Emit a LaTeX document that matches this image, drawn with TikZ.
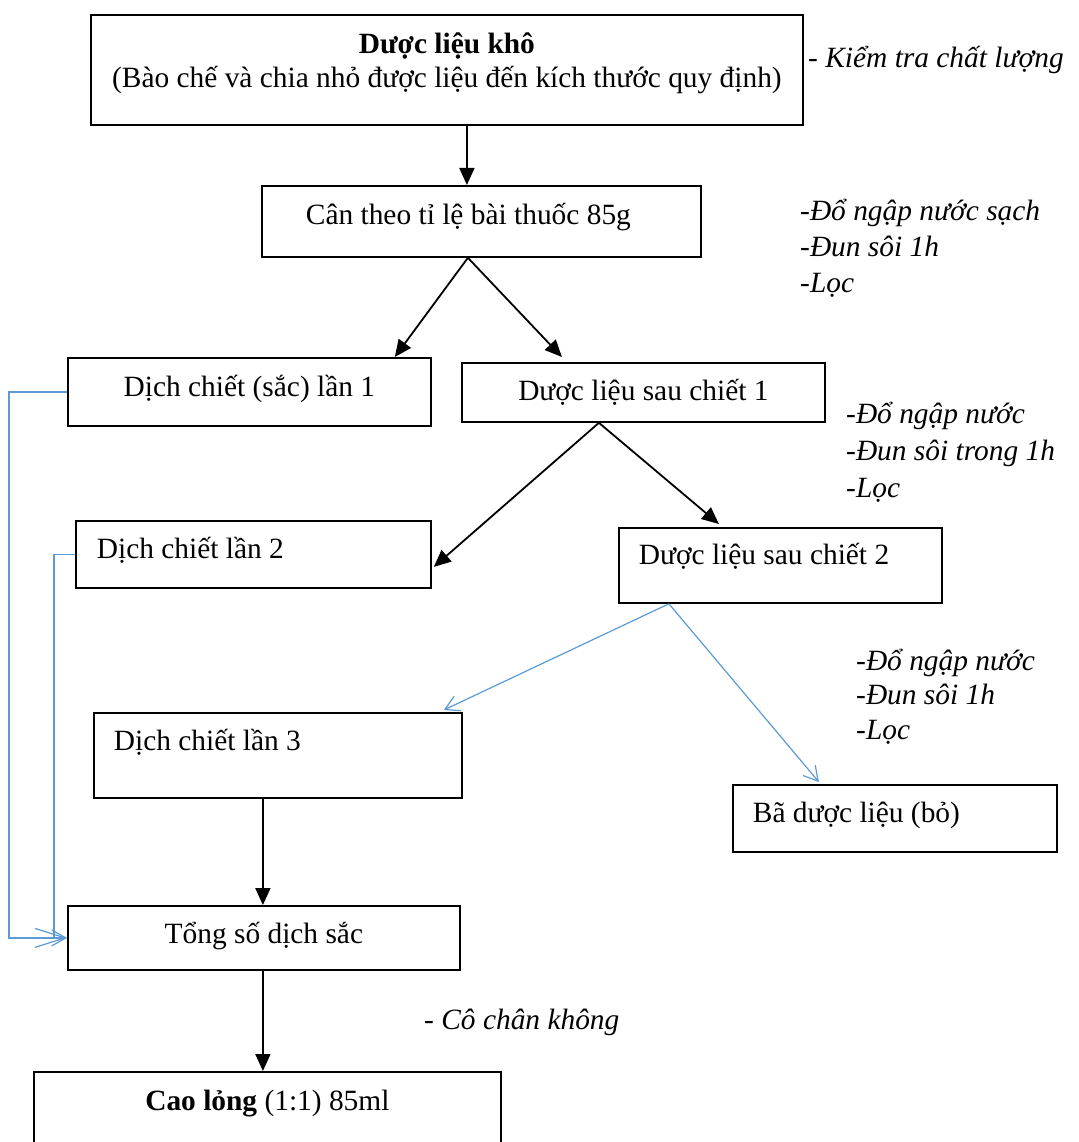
\documentclass[tikz,border=0pt]{standalone}
\usepackage{fontspec}
\setmainfont{Liberation Serif}
\usetikzlibrary{arrows.meta, calc}
\definecolor{wordblue}{RGB}{91,155,213}

\begin{document}
\begin{tikzpicture}[
    x=1pt, y=-1pt,
    font=\fontsize{29.4}{34}\selectfont,
    box/.style={draw, line width=1.8pt, rectangle, anchor=north west,
        inner ysep=0pt},
    cbox/.style={box, inner xsep=0pt, align=flush center},
    lbox/.style={box, inner xsep=20pt, align=flush left},
    note/.style={anchor=base west, inner sep=0pt, align=left,
        font=\fontsize{29.4}{36.5}\selectfont\itshape},
    flow/.style={line width=1.8pt, -{Triangle[length=17pt, width=15pt]}},
    feed/.style={draw=wordblue, line width=1.2pt,
        -{Straight Barb[length=14pt, width=16pt, line width=1.2pt]}},
    long feed/.style={feed,
        -{Straight Barb[length=30pt, width=19pt, line width=1.2pt]}},
]

% =============================================================================
% Page frame
% =============================================================================
\useasboundingbox (0,0) rectangle (1078,1142);
\clip (0,0) rectangle (1078,1142);

% =============================================================================
% Steps
% =============================================================================
\node[cbox, text width=712, text height=39, text depth=71] (dlk) at (90,14)
    {\textbf{Dược liệu khô}\\(Bào chế và chia nhỏ được liệu đến kích thước quy định)};
\node[lbox, inner xsep=44pt, text width=351, text height=39, text depth=32] (can) at (261,185)
    {Cân theo tỉ lệ bài thuốc 85g};

% --- First extraction ---
\node[cbox, text width=363, text height=39, text depth=29] (dc1) at (67,357)
    {Dịch chiết (sắc) lần 1};
\node[cbox, text width=363, text height=38, text depth=21] (dl1) at (461,362)
    {Dược liệu sau chiết 1};

% --- Second extraction ---
\node[lbox, inner xsep=21pt, text width=313, text height=38, text depth=29] (dc2) at (75,520)
    {Dịch chiết lần 2};
\node[lbox, text width=283, text height=37, text depth=38] (dl2) at (618,527)
    {Dược liệu sau chiết 2};

% --- Third extraction ---
\node[lbox, text width=328, text height=38, text depth=47] (dc3) at (93,712)
    {Dịch chiết lần 3};
\node[lbox, text width=284, text height=38, text depth=29] (bdl) at (732,784)
    {Bã dược liệu (bỏ)};

% --- Pooling and concentration ---
\node[cbox, text width=392, text height=38, text depth=26] (tong) at (67,905)
    {Tổng số dịch sắc};
\node[cbox, text width=467, text height=39, text depth=61] (cao) at (33,1071)
    {\textbf{Cao lỏng} (1:1) 85ml};

% =============================================================================
% Side notes (placed on the baseline of their last line)
% =============================================================================
\node[note] (kt) at (808,68) {- Kiểm tra chất lượng};
\node[note, font=\fontsize{29.4}{36}\selectfont\itshape] (sac1) at (800,292)
    {-Đổ ngập nước sạch\\-Đun sôi 1h\\-Lọc};
\node[note, font=\fontsize{29.4}{37}\selectfont\itshape] (sac2) at (846,497)
    {-Đổ ngập nước\\-Đun sôi trong 1h\\-Lọc};
\node[note, font=\fontsize{29.4}{34.5}\selectfont\itshape] (sac3) at (856,739)
    {-Đổ ngập nước\\-Đun sôi 1h\\-Lọc};
\node[note] (co) at (424,1029) {- Cô chân không};

% =============================================================================
% Connectors
% =============================================================================
% --- Main flow (black) ---
\draw[flow] ([xshift=20]dlk.south) -- ([xshift=-14.5]can.north);
\draw[flow] ([xshift=-13.5]can.south) -- ([xshift=-37]dc1.north east);
\draw[flow] ([xshift=-13.5]can.south) -- ([xshift=-81.5, yshift=5]dl1.north);
\draw[flow] ([xshift=-44.5]dl1.south) -- ([xshift=2, yshift=-12.5]dc2.east);
\draw[flow] ([xshift=-44.5]dl1.south) -- ([xshift=-61.5, yshift=3]dl2.north);
\draw[flow] ([xshift=-15]dc3.south) -- ([xshift=-1]tong.north);
\draw[flow] ([xshift=-1]tong.south) -- ([xshift=-4.5]cao.north);

% --- Third extraction and pooling (blue) ---
\draw[feed] ([xshift=-111.5]dl2.south) -- ([xshift=-19, yshift=2]dc3.north east);
\draw[feed] ([xshift=-111.5]dl2.south) -- ([xshift=-76, yshift=2]bdl.north);
\draw[long feed] (dc1.west) -- ++(-58,0) |- (tong.west);
\draw[feed] (dc2.west) -- ++(-21,0) |- (tong.west);

\end{tikzpicture}
\end{document}
